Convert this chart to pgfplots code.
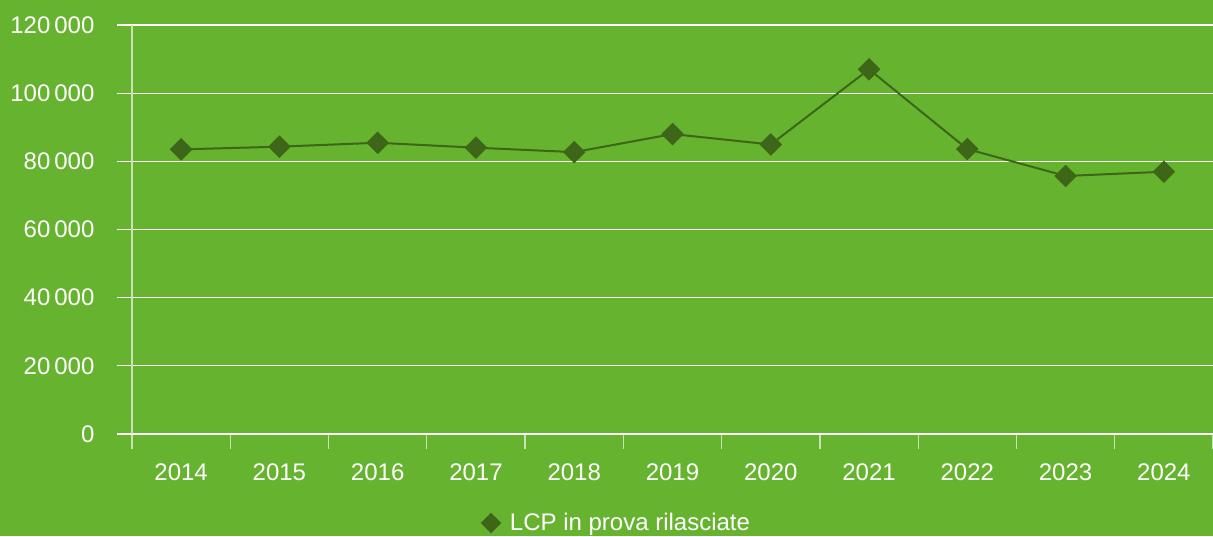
\documentclass[border=0pt]{standalone}
\usepackage{fontspec}
\setmainfont{Liberation Sans}
\usepackage{pgfplots}
\pgfplotsset{compat=1.18}
\definecolor{bg}{HTML}{66B32F}
\definecolor{dk}{HTML}{3D6618}
\definecolor{axl}{HTML}{C9E3B5}
\begin{document}
\begin{tikzpicture}[x=1pt,y=1pt]
\fill[bg] (0,0) rectangle (1213,536);
\useasboundingbox (0,0) rectangle (1213,536);
\begin{axis}[
  at={(132pt,102pt)}, anchor=origin,
  scale only axis, width=1081pt, height=409pt,
  xmin=0, xmax=11, ymin=0, ymax=120000,
  axis lines=left, axis line style={-},
  x axis line style={white, line width=1.3pt},
  y axis line style={axl, line width=1.3pt},
  ytick={0,20000,40000,60000,80000,100000,120000},
  yticklabels={0,20\,000,40\,000,60\,000,80\,000,100\,000,120\,000},
  scaled y ticks=false,
  ymajorgrids, grid style={white, line width=1.3pt},
  tick align=outside, major tick length=15pt, minor tick length=15pt,
  tick style={white, line width=1.3pt},
  xtick={0.5,1.5,...,10.5},
  xticklabels={2014,2015,2016,2017,2018,2019,2020,2021,2022,2023,2024},
  every major x tick/.append style={draw=none},
  minor xtick={0,1,...,11},
  every minor x tick/.append style={axl},
  ticklabel style={font=\fontsize{24}{28}\selectfont, text=white},
  yticklabel style={xshift=-19pt},
  xticklabel style={yshift=-11pt},
  legend style={at={(0.4483,-0.2176)}, anchor=center, draw=none, fill=none,
    font=\fontsize{24}{28}\selectfont, text=white},
  clip=false,
]
\addlegendimage{only marks, mark=square*, mark size=7pt, mark options={rotate=45}, color=dk}
\addlegendentry{\hspace{7pt}LCP in prova rilasciate}
\addplot[dk, line width=2pt, mark=square*, mark size=7pt, mark options={rotate=45}, forget plot]
coordinates {
 (0.5,83500) (1.5,84300) (2.5,85450) (3.5,84000) (4.5,82700) (5.5,88000)
 (6.5,84950) (7.5,107000) (8.5,83600) (9.5,75700) (10.5,76950)};
\end{axis}
\end{tikzpicture}
\end{document}
